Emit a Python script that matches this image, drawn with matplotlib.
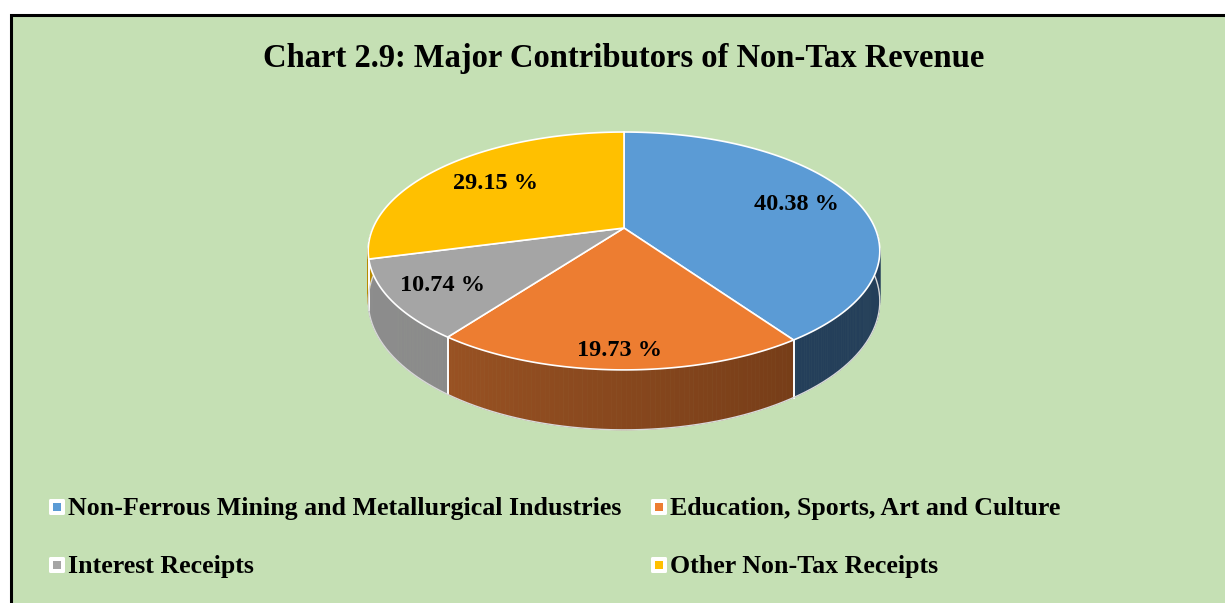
import numpy as np
import matplotlib
matplotlib.use("Agg")
import matplotlib.pyplot as plt
from matplotlib.patches import Rectangle, Polygon, FancyBboxPatch
from matplotlib.colors import to_rgb

# 数据
categories = ["Non-Ferrous Mining and Metallurgical Industries",
              "Education, Sports, Art and Culture",
              "Interest Receipts",
              "Other Non-Tax Receipts"]
shares = [40.38, 19.73, 10.74, 29.15]
top_colors = ["#5B9BD5", "#ED7D31", "#A5A5A5", "#FFC000"]
side_left = ["#243F5A", "#B3622B", "#8E8E8E", "#B88A00"]
side_right = ["#243F5A", "#5C2D10", "#828282", "#B88A00"]
title = "Chart 2.9: Major Contributors of Non-Tax Revenue"

# 3D 饼图投影参数（像素坐标）
CX, CY = 624, 228
RX = 251
B = 70.5
K = -0.193
D = 48.4
label_r = [0.75, 0.88, 0.80, 0.70]


def proj(theta, r=1.0, depth=0.0):
    th = np.radians(theta)
    u = r * np.sin(th)
    v = -r * np.cos(th)
    w = 1 + K * v
    return CX + RX * u / w, (CY + B * v) / w + depth * D / w


plt.rcParams['font.family'] = ['Liberation Serif', 'DejaVu Serif']
fig = plt.figure(figsize=(12.25, 6.03), dpi=100)
ax = fig.add_axes([0, 0, 1, 1])
ax.set_xlim(0, 1225)
ax.set_ylim(603, 0)
ax.axis('off')

ax.add_patch(Rectangle((11, 15), 1400, 800, facecolor="#C5E0B4",
                       edgecolor="black", lw=2.2, zorder=0))

ax.text(624, 58, title, ha='center', va='center', fontsize=23.5,
        fontweight='bold', zorder=10)

total = sum(shares)
edges = np.concatenate([[0], np.cumsum(shares) / total * 360])

# 侧面
for i in range(len(shares)):
    a, b = max(edges[i], 90), min(edges[i + 1], 270)
    if b <= a:
        continue
    ts = np.linspace(a, b, 80)
    c0, c1 = np.array(to_rgb(side_left[i])), np.array(to_rgb(side_right[i]))
    for j in range(len(ts) - 1):
        f = (ts[j] - 90) / 180
        col = c1 * (1 - f) + c0 * f
        x0, y0 = proj(ts[j])
        x1, y1 = proj(ts[j + 1])
        x2, y2 = proj(ts[j + 1], depth=1)
        x3, y3 = proj(ts[j], depth=1)
        ax.add_patch(Polygon([(x0, y0), (x1, y1), (x2, y2), (x3, y3)],
                             closed=True, facecolor=col, edgecolor=col,
                             lw=0.5, zorder=2))
    # 侧面分界线
    for t in (a, b):
        if 90 < t < 270:
            xa, ya = proj(t)
            xb, yb = proj(t, depth=1)
            ax.plot([xa, xb], [ya, yb], color="white", lw=1.2, zorder=3)

# 底部外轮廓
ts = np.linspace(90, 270, 200)
xb, yb = proj(ts, depth=1)
ax.plot(xb, yb, color="#D9D9D9", lw=1.0, zorder=3)

# 顶面
for i in range(len(shares)):
    ts = np.linspace(edges[i], edges[i + 1], 120)
    xs, ys = proj(ts)
    pts = [proj(0, 0)] + list(zip(xs, ys))
    ax.add_patch(Polygon(pts, closed=True, facecolor=top_colors[i],
                         edgecolor="white", lw=1.2, zorder=4))

# 数据标签
for i, s in enumerate(shares):
    mid = (edges[i] + edges[i + 1]) / 2
    lx, ly = proj(mid, label_r[i])
    ax.text(lx, ly + 1, f"{s:.2f} %", ha='center', va='center', fontsize=17.5,
            fontweight='bold', zorder=6)

# 图例
leg_x = [57, 659, 57, 659]
leg_y = [507, 507, 565, 565]
for i, name in enumerate(categories):
    ax.add_patch(FancyBboxPatch((leg_x[i] - 6.5, leg_y[i] - 6.5), 13, 13,
                                boxstyle="round,pad=1.5", facecolor="white",
                                edgecolor="none", zorder=5))
    ax.add_patch(Rectangle((leg_x[i] - 4, leg_y[i] - 4), 8, 8,
                           facecolor=top_colors[i], edgecolor="none", zorder=6))
    ax.text(leg_x[i] + 11, leg_y[i] + 2, name, ha='left', va='center',
            fontsize=18.6, fontweight='bold', zorder=6)

fig.savefig("out.png", dpi=100, facecolor="white")
